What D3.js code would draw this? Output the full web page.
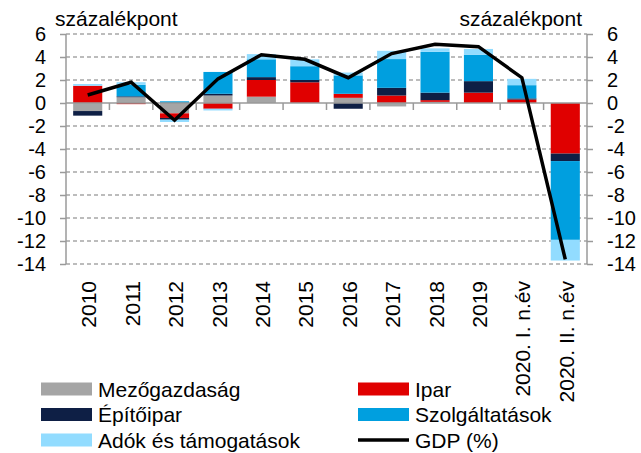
<html>
<head>
  <style>
    body { margin: 0; background: #fff; }
  </style>
</head>
<body>
<script src="https://d3js.org/d3.v7.min.js"></script>
<script>
// categories and series (percentage points)
var categories = ["2010","2011","2012","2013","2014","2015","2016","2017","2018","2019","2020. I. n.év","2020. II. n.év"];
var mezogazdasag = [-0.7, 0.5, -0.9, 0.65, 0.55, 0.0, 0.45, -0.3, 0.1, 0.0, 0.0, 0.0];
var ipar         = [1.5, -0.1, -0.4, -0.5, 1.45, 1.8, 0.35, 0.65, 0.15, 0.9, 0.3, -4.4];
var epitoipar    = [-0.4, 0.08, -0.15, 0.15, 0.25, 0.2, -0.5, 0.67, 0.65, 1.0, 0.1, -0.65];
var szolgaltatas = [0.0, 1.0, 0.15, 1.9, 1.55, 1.2, 1.6, 2.5, 3.55, 2.3, 1.15, -6.85];
var adok         = [0.15, 0.23, -0.2, -0.15, 0.45, 0.6, 0.25, 0.72, 0.3, 0.5, 0.55, -1.8];
var gdp          = [0.7, 1.8, -1.5, 2.1, 4.2, 3.8, 2.2, 4.3, 5.1, 4.9, 2.2, -13.6];
var yTicks = [-14, -12, -10, -8, -6, -4, -2, 0, 2, 4, 6];

var seriesNames = ["Mezőgazdaság", "Ipar", "Építőipar", "Szolgáltatások", "Adók és támogatások"];
var seriesColors = ["#a5a5a5", "#e00000", "#0e1f45", "#009fdf", "#92dcff"];
var seriesValues = [mezogazdasag, ipar, epitoipar, szolgaltatas, adok];

var width = 641, height = 453;
var plotLeft = 66, plotRight = 587, plotTop = 34, plotBottom = 264;
var font = "'Liberation Sans', Arial, sans-serif";

var svg = d3.select("body").append("svg")
  .attr("width", width).attr("height", height);

var x = d3.scaleBand().domain(categories).range([plotLeft, plotRight])
  .paddingInner(0.33).paddingOuter(0.165);
var y = d3.scaleLinear().domain([-14, 6]).range([plotBottom, plotTop]);

// table for the stack
var table = categories.map(function(c, i) {
  var row = { cat: c };
  seriesNames.forEach(function(s, j) { row[s] = seriesValues[j][i]; });
  return row;
});
var stacked = d3.stack().keys(seriesNames).offset(d3.stackOffsetDiverging)(table);

// gridlines (dashed)
svg.append("g").selectAll("line")
  .data(yTicks.filter(function(d) { return d !== 0; }))
  .join("line")
  .attr("x1", plotLeft).attr("x2", plotRight)
  .attr("y1", function(d) { return y(d); })
  .attr("y2", function(d) { return y(d); })
  .attr("stroke", "#a6a6a6")
  .attr("stroke-width", 1.5)
  .attr("stroke-dasharray", "4,3");

// bars
svg.append("g").selectAll("g")
  .data(stacked)
  .join("g")
  .attr("fill", function(d, i) { return seriesColors[i]; })
  .selectAll("rect")
  .data(function(d) { return d; })
  .join("rect")
  .attr("x", function(d) { return x(d.data.cat); })
  .attr("width", x.bandwidth())
  .attr("y", function(d) { return y(Math.max(d[0], d[1])); })
  .attr("height", function(d) { return Math.abs(y(d[0]) - y(d[1])); });

// left axis
var axisL = svg.append("g")
  .attr("transform", "translate(" + plotLeft + ",0)")
  .call(d3.axisLeft(y).tickValues(yTicks).tickSize(6).tickPadding(14)
    .tickFormat(function(d) { return String(d); }));
// right axis
var axisR = svg.append("g")
  .attr("transform", "translate(" + plotRight + ",0)")
  .call(d3.axisRight(y).tickValues(yTicks).tickSize(6).tickPadding(14)
    .tickFormat(function(d) { return String(d); }));

[axisL, axisR].forEach(function(a) {
  a.select(".domain").attr("stroke", "#9a9a9a").attr("stroke-width", 1.5)
    .attr("d", "M0," + plotTop + "V" + plotBottom);
  a.selectAll(".tick line").attr("stroke", "#9a9a9a").attr("stroke-width", 1.5);
  a.selectAll(".tick text").attr("fill", "#000")
    .style("font-family", font).style("font-size", "20px");
});

// zero line with category ticks
svg.append("line")
  .attr("x1", plotLeft).attr("x2", plotRight)
  .attr("y1", y(0)).attr("y2", y(0))
  .attr("stroke", "#9a9a9a").attr("stroke-width", 1.5);
svg.append("g").selectAll("line")
  .data(categories.slice(1))
  .join("line")
  .attr("x1", function(d) { return x(d) - x.step() * x.paddingInner() / 2; })
  .attr("x2", function(d) { return x(d) - x.step() * x.paddingInner() / 2; })
  .attr("y1", y(0)).attr("y2", y(0) + 7)
  .attr("stroke", "#9a9a9a").attr("stroke-width", 1.5);

// GDP line
svg.append("path")
  .datum(gdp)
  .attr("fill", "none")
  .attr("stroke", "#000")
  .attr("stroke-width", 3.5)
  .attr("stroke-linejoin", "miter")
  .attr("d", d3.line()
    .x(function(d, i) { return x(categories[i]) + x.bandwidth() / 2; })
    .y(function(d) { return y(d); }));

// category labels
svg.append("g").selectAll("text")
  .data(categories)
  .join("text")
  .attr("transform", function(d) {
    return "translate(" + (x(d) + x.bandwidth() / 2 + 1) + ",281) rotate(-90)";
  })
  .attr("text-anchor", "end")
  .attr("dy", "0.36em")
  .style("font-family", font).style("font-size", "21px")
  .text(function(d) { return d; });

// unit labels
svg.append("text").attr("x", 55).attr("y", 26)
  .style("font-family", font).style("font-size", "21px")
  .text("százalékpont");
svg.append("text").attr("x", 582).attr("y", 26)
  .attr("text-anchor", "end")
  .style("font-family", font).style("font-size", "21px")
  .text("százalékpont");

// legend
var legendItems = [
  { name: "Mezőgazdaság", color: seriesColors[0], col: 0, row: 0 },
  { name: "Ipar", color: seriesColors[1], col: 1, row: 0 },
  { name: "Építőipar", color: seriesColors[2], col: 0, row: 1 },
  { name: "Szolgáltatások", color: seriesColors[3], col: 1, row: 1 },
  { name: "Adók és támogatások", color: seriesColors[4], col: 0, row: 2 },
  { name: "GDP (%)", color: "#000", col: 1, row: 2, line: true }
];
var legend = svg.append("g").selectAll("g")
  .data(legendItems)
  .join("g")
  .attr("transform", function(d) {
    return "translate(" + (d.col === 0 ? 41 : 358) + "," + (389 + d.row * 25.5) + ")";
  });
legend.filter(function(d) { return !d.line; }).append("rect")
  .attr("x", 0).attr("y", -6.5).attr("width", 51).attr("height", 13)
  .attr("fill", function(d) { return d.color; });
legend.filter(function(d) { return d.line; }).append("line")
  .attr("x1", 0).attr("x2", 51).attr("y1", 0).attr("y2", 0)
  .attr("stroke", "#000").attr("stroke-width", 3.5);
legend.append("text")
  .attr("x", 57).attr("dy", "0.36em")
  .style("font-family", font).style("font-size", "21px")
  .text(function(d) { return d.name; });
</script>
</body>
</html>
